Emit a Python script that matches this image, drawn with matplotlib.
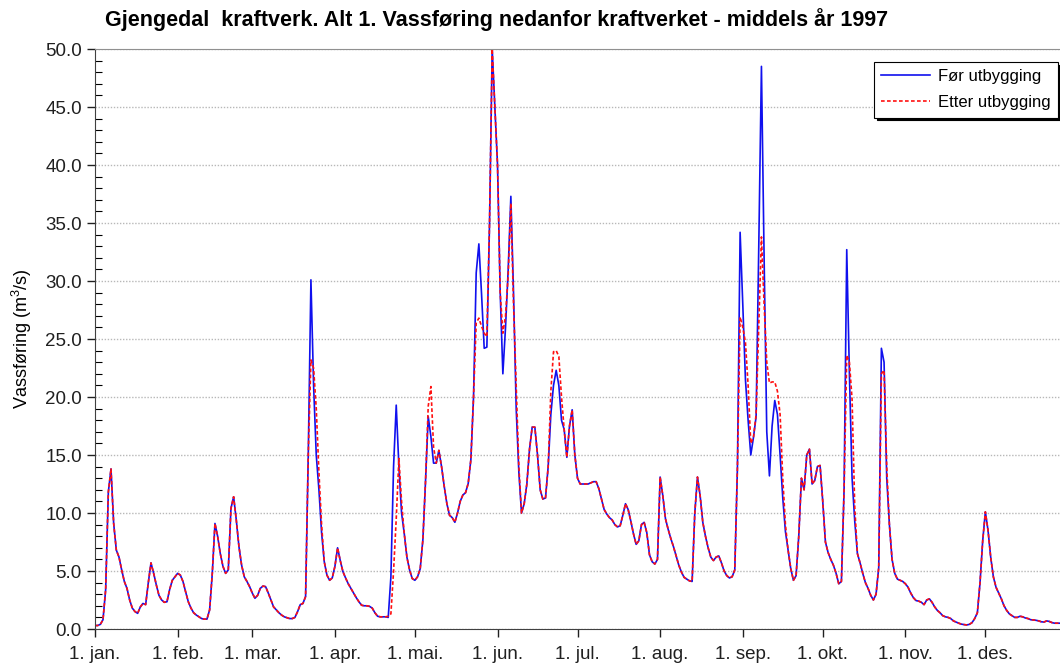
import numpy as np
import matplotlib
matplotlib.use('Agg')
import matplotlib.pyplot as plt
from matplotlib.ticker import MultipleLocator, FormatStrFormatter

plt.rcParams['font.family'] = ['Liberation Sans', 'DejaVu Sans']
plt.rcParams['mathtext.default'] = 'regular'

# Vassføring per dag (m3/s), 1. jan - 31. des 1997, før utbygging
for_utbygging = [
    0.3, 0.3, 0.4, 0.8, 3.4, 11.8, 13.8, 9.1, 6.8, 6.2,
    5.1, 4.1, 3.5, 2.5, 1.8, 1.5, 1.35, 1.9, 2.2, 2.1,
    4.0, 5.7, 4.8, 3.8, 2.9, 2.5, 2.3, 2.35, 3.4, 4.2,
    4.5, 4.8, 4.65, 4.1, 3.2, 2.35, 1.8, 1.4, 1.2, 1.05,
    0.9, 0.85, 0.85, 1.65, 4.8, 9.1, 8.0, 6.5, 5.4, 4.8,
    5.1, 10.4, 11.4, 9.4, 7.1, 5.5, 4.5, 4.1, 3.65, 3.1,
    2.65, 2.9, 3.5, 3.7, 3.65, 3.1, 2.5, 1.9, 1.65, 1.4,
    1.2, 1.05, 0.97, 0.9, 0.9, 1.0, 1.5, 2.1, 2.2, 2.8,
    15.0, 30.1, 21.0, 15.0, 12.0, 8.3, 5.8, 4.65, 4.2, 4.4,
    5.4, 7.0, 5.9, 4.95, 4.4, 3.9, 3.5, 3.1, 2.7, 2.35,
    2.05, 2.0, 2.0, 1.95, 1.8, 1.4, 1.1, 1.05, 1.05, 1.05,
    1.0, 4.5, 14.0, 19.3, 14.0, 10.0, 8.25, 6.2, 5.1, 4.35,
    4.2, 4.5, 5.2, 7.7, 12.8, 18.3, 16.6, 14.3, 14.3, 15.4,
    14.0, 12.3, 10.8, 9.8, 9.6, 9.2, 10.0, 11.0, 11.55, 11.75,
    12.55, 14.6, 20.0, 30.7, 33.2, 28.9, 24.2, 24.3, 35.0, 50.0,
    45.0, 40.0, 29.0, 22.0, 26.0, 31.0, 37.3, 29.0, 19.0, 13.5,
    10.0, 10.8, 12.5, 15.5, 17.4, 17.4, 15.0, 12.0, 11.2, 11.3,
    14.0, 18.5, 21.0, 22.3, 21.0, 18.0, 17.2, 14.8, 17.5, 18.9,
    15.0, 13.0, 12.5, 12.5, 12.5, 12.5, 12.6, 12.7, 12.7, 12.1,
    11.2, 10.3, 9.9, 9.6, 9.4, 9.0, 8.8, 8.9, 9.8, 10.8,
    10.3, 9.3, 8.2, 7.3, 7.6, 9.0, 9.2, 8.3, 6.4, 5.8,
    5.6, 6.0, 13.1, 11.5, 9.5, 8.6, 7.8, 7.1, 6.3, 5.5,
    4.9, 4.45, 4.3, 4.15, 4.1, 10.0, 13.1, 11.5, 9.2, 8.0,
    7.0, 6.2, 5.9, 6.2, 6.3, 5.7, 5.0, 4.6, 4.4, 4.5,
    5.1, 14.0, 34.2, 28.0, 21.5, 18.0, 15.0, 16.5, 18.3, 33.0,
    48.5, 32.0, 17.0, 13.2, 17.5, 19.7, 18.5, 15.0, 11.3, 8.4,
    6.8, 5.2, 4.2, 4.6, 8.0, 13.0, 12.0, 15.0, 15.5, 12.5,
    12.8, 14.0, 14.1, 11.0, 7.5, 6.6, 6.0, 5.5, 4.8, 3.9,
    4.1, 12.0, 32.7, 22.0, 13.0, 9.3, 6.5, 5.7, 4.8, 4.0,
    3.5, 2.9, 2.5, 3.0, 5.3, 24.2, 23.0, 13.0, 9.0, 6.0,
    4.8, 4.3, 4.2, 4.1, 3.9, 3.6, 3.1, 2.7, 2.45, 2.4,
    2.3, 2.1, 2.5, 2.6, 2.3, 1.9, 1.6, 1.4, 1.15, 1.05,
    1.0, 0.9, 0.7, 0.6, 0.5, 0.42, 0.38, 0.35, 0.4, 0.55,
    0.9, 1.4, 4.0, 7.6, 10.1, 8.5, 6.2, 4.5, 3.6, 3.1,
    2.6, 2.0, 1.6, 1.3, 1.15, 1.0, 1.0, 1.1, 1.05, 0.95,
    0.9, 0.8, 0.78, 0.75, 0.7, 0.62, 0.6, 0.7, 0.65, 0.55,
    0.5, 0.5, 0.5, 0.5, 0.5,
]

# dagar der vassføringa etter utbygging skil seg frå før (dag nr. -> m3/s)
etter_avvik = {
    81: 23.2, 82: 22.5, 83: 19.0, 84: 13.5, 85: 9.0,
    110: 1.1, 111: 1.3, 112: 5.0, 113: 9.5, 114: 14.7, 115: 11.0,
    125: 19.2, 126: 20.9, 127: 15.7,
    143: 26.4, 144: 26.8, 145: 26.1, 146: 25.5, 147: 25.2,
    153: 25.5, 154: 27.0, 155: 30.5, 156: 36.7, 157: 28.0, 158: 21.0, 159: 14.0,
    171: 20.5, 172: 23.9, 173: 24.0, 174: 23.5, 175: 20.0,
    242: 26.9, 243: 26.0, 244: 24.7, 245: 21.0, 246: 16.0, 247: 16.5,
    248: 18.5, 249: 26.0, 250: 33.8, 251: 28.0, 252: 23.0, 253: 21.2,
    254: 21.3, 255: 21.3, 256: 20.5, 257: 18.5, 258: 13.0, 259: 9.0,
    282: 23.6, 283: 23.0, 284: 19.8, 285: 10.5,
    295: 22.0, 296: 22.3, 297: 14.0,
}

maanad_dag = [0, 31, 59, 90, 120, 151, 181, 212, 243, 273, 304, 334]
maanad_namn = ['1. jan.', '1. feb.', '1. mar.', '1. apr.', '1. mai.', '1. jun.',
               '1. jul.', '1. aug.', '1. sep.', '1. okt.', '1. nov.', '1. des.']

for_v = np.array(for_utbygging)
etter_v = for_v.copy()
for d, v in etter_avvik.items():
    etter_v[d] = v
dagar = np.arange(len(for_v))

fig = plt.figure(figsize=(10.6, 6.64), dpi=100)
ax = fig.add_axes([95 / 1060, 35 / 664, 973 / 1060, 580 / 664])

ax.plot(dagar, for_v, color='#1010ee', lw=1.2, label='Før utbygging')
ax.plot(dagar, etter_v, color='#ff1010', lw=1.2, ls=(0, (2.2, 1.4)), label='Etter utbygging')

ax.set_xlim(0, 365)
ax.set_ylim(0, 50)
ax.set_xticks(maanad_dag)
ax.set_xticklabels(maanad_namn)
ax.yaxis.set_major_locator(MultipleLocator(5))
ax.yaxis.set_minor_locator(MultipleLocator(1))
ax.yaxis.set_major_formatter(FormatStrFormatter('%.1f'))
ax.tick_params(axis='both', labelsize=13.5, colors='#202020')
ax.tick_params(axis='y', which='major', direction='out', length=6, width=1)
ax.tick_params(axis='y', which='minor', direction='in', length=5, width=0.8)
ax.tick_params(axis='x', direction='out', length=6, width=1, pad=6)
ax.yaxis.grid(True, which='major', ls=(0, (1, 1.2)), color='#b8b8b8', lw=1)

ax.spines['right'].set_visible(False)
ax.spines['top'].set_color('#909090')
ax.spines['left'].set_color('#404040')
ax.spines['bottom'].set_color('#404040')

ax.set_ylabel('Vassføring (m$^3$/s)', fontsize=13, labelpad=8)

fig.text(105 / 1060, 1 - 20 / 664, 'Gjengedal  kraftverk. Alt 1. Vassføring nedanfor kraftverket - middels år 1997',
         fontsize=15.5, fontweight='bold', ha='left', va='center')

leg = ax.legend(loc='upper right', bbox_to_anchor=(0.99, 0.978), borderaxespad=0,
                fontsize=12, frameon=True, fancybox=False, edgecolor='black',
                framealpha=1, shadow={'color': 'black', 'alpha': 1},
                handlelength=2.9, handletextpad=0.5, borderpad=0.45, labelspacing=0.65)
leg.get_frame().set_linewidth(0.8)

fig.savefig('out.png', dpi=100)
